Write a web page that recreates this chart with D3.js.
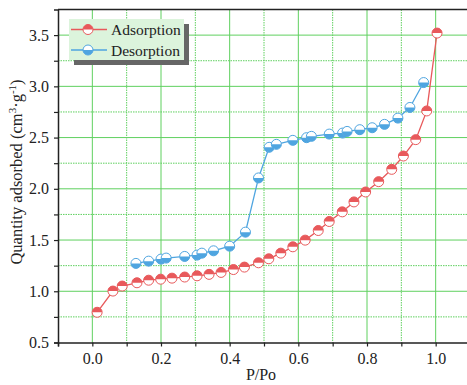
<!DOCTYPE html>
<html>
<head>
  <meta charset="utf-8">
  <title>Adsorption / Desorption isotherm</title>
  <style>
    body { margin: 0; background: #fff; }
    text { font-family: "Liberation Serif", "Times New Roman", Times, serif; fill: #222; }
  </style>
</head>
<body>
  <svg width="467" height="385"></svg>
  <script src="https://d3js.org/d3.v7.min.js"></script>
  <script>
    // adsorption branch (P/Po, quantity)
    const adsX = [0.014, 0.060, 0.087, 0.130, 0.164, 0.199, 0.232, 0.269, 0.305, 0.340, 0.375, 0.411,
                  0.443, 0.484, 0.514, 0.549, 0.584, 0.620, 0.658, 0.690, 0.728, 0.762, 0.796, 0.834,
                  0.872, 0.906, 0.942, 0.974, 1.004];
    const adsY = [0.795, 1.002, 1.051, 1.083, 1.108, 1.118, 1.128, 1.139, 1.151, 1.165, 1.184, 1.212,
                  1.236, 1.278, 1.317, 1.372, 1.434, 1.499, 1.593, 1.681, 1.775, 1.872, 1.969, 2.07,
                  2.19, 2.32, 2.48, 2.76, 3.52];

    // desorption branch
    const desX = [0.127, 0.164, 0.200, 0.215, 0.269, 0.305, 0.319, 0.353, 0.400, 0.446, 0.484, 0.515,
                  0.536, 0.584, 0.624, 0.638, 0.690, 0.729, 0.742, 0.779, 0.815, 0.851, 0.890, 0.925, 0.965];
    const desY = [1.272, 1.294, 1.314, 1.324, 1.340, 1.353, 1.372, 1.395, 1.440, 1.577, 2.106, 2.405,
                  2.434, 2.473, 2.499, 2.512, 2.534, 2.544, 2.560, 2.577, 2.596, 2.629, 2.690, 2.794, 3.037];

    const xTicks = [0.0, 0.2, 0.4, 0.6, 0.8, 1.0];
    const yTicks = [0.5, 1.0, 1.5, 2.0, 2.5, 3.0, 3.5];

    const series = [
      {name: "Adsorption", color: "#e8595b", half: "top", x: adsX, y: adsY},
      {name: "Desorption", color: "#4fa5e0", half: "bottom", x: desX, y: desY}
    ];

    const svg = d3.select("svg"),
          margin = {top: 9.5, left: 58},
          width = 412, height = 333;

    const x = d3.scaleLinear().domain([-0.1, 1.1]).range([0, width]);
    const y = d3.scaleLinear().domain([0.5, 3.75]).range([height, 0]);

    const g = svg.append("g")
      .attr("transform", "translate(" + margin.left + "," + margin.top + ")");

    // grid: solid at major, dotted at minor
    const gridColor = "#5fd05f";
    const xGrid = d3.range(0, 11).map(i => i / 10);
    const yGrid = d3.range(1, 13).map(i => 0.5 + i * 0.25);

    g.selectAll(".vgrid").data(xGrid).enter().append("line")
      .attr("x1", d => x(d)).attr("x2", d => x(d))
      .attr("y1", 0).attr("y2", height)
      .attr("stroke", gridColor)
      .attr("stroke-width", 1)
      .attr("stroke-dasharray", (d, i) => i % 2 ? "1.5,1" : null);

    g.selectAll(".hgrid").data(yGrid).enter().append("line")
      .attr("x1", 0).attr("x2", width)
      .attr("y1", d => y(d)).attr("y2", d => y(d))
      .attr("stroke", gridColor)
      .attr("stroke-width", 1)
      .attr("stroke-dasharray", (d, i) => i % 2 ? null : "1.5,1");

    // top frame line
    g.append("line")
      .attr("x1", 0).attr("x2", width).attr("y1", 0).attr("y2", 0)
      .attr("stroke", "#222").attr("stroke-width", 1.5);

    // axes
    const xAxis = g.append("g")
      .attr("transform", "translate(0," + height + ")")
      .call(d3.axisBottom(x).tickValues(d3.range(-1, 12).map(i => i / 10)).tickSize(4).tickPadding(6)
        .tickFormat(d => xTicks.some(t => Math.abs(t - d) < 1e-9) ? d3.format(".1f")(d) : ""));
    xAxis.select(".domain").attr("stroke", "#222").attr("stroke-width", 1.5);
    xAxis.selectAll(".tick line").attr("stroke", "#222").attr("stroke-width", 1.2);
    xAxis.selectAll("text").style("font-size", "16px").attr("fill", "#222")
      .style("font-family", "'Liberation Serif', 'Times New Roman', serif");

    const yAxis = g.append("g")
      .call(d3.axisLeft(y).tickValues(d3.range(0, 13).map(i => 0.5 + i * 0.25)).tickSize(4).tickPadding(5)
        .tickFormat(d => yTicks.some(t => Math.abs(t - d) < 1e-9) ? d3.format(".1f")(d) : ""));
    yAxis.select(".domain").attr("stroke", "#222").attr("stroke-width", 1.5);
    yAxis.selectAll(".tick line").attr("stroke", "#222").attr("stroke-width", 1.2);
    yAxis.selectAll("text").style("font-size", "16px").attr("fill", "#222")
      .style("font-family", "'Liberation Serif', 'Times New Roman', serif");

    // axis titles
    svg.append("text")
      .attr("x", margin.left + x(0.5) - 3).attr("y", 380)
      .attr("text-anchor", "middle")
      .style("font-size", "16px")
      .text("P/Po");

    const yt = svg.append("text")
      .attr("transform", "translate(22," + (margin.top + height / 2 - 4) + ") rotate(-90)")
      .attr("text-anchor", "middle")
      .style("font-size", "16.5px");
    yt.append("tspan").text("Quantity adsorbed (cm");
    yt.append("tspan").attr("dy", -6).style("font-size", "11px").text("3");
    yt.append("tspan").attr("dy", 6).text("·g");
    yt.append("tspan").attr("dy", -6).style("font-size", "11px").text("-1");
    yt.append("tspan").attr("dy", 6).text(")");

    // half-filled marker
    function marker(sel, color, half, r) {
      sel.append("circle").attr("r", r).attr("fill", "#fff")
        .attr("stroke", color).attr("stroke-width", 1);
      const sweep = half === "top" ? 1 : 0;
      sel.append("path")
        .attr("d", "M" + (-r) + ",0 A" + r + "," + r + " 0 0 " + sweep + " " + r + ",0 Z")
        .attr("fill", color);
    }

    const line = d3.line().x(d => x(d[0])).y(d => y(d[1]));

    series.forEach(s => {
      const pts = s.x.map((v, i) => [v, s.y[i]]);
      g.append("path")
        .datum(pts)
        .attr("d", line)
        .attr("fill", "none")
        .attr("stroke", s.color)
        .attr("stroke-width", 1.3);
      g.selectAll(".pt-" + s.half).data(pts).enter().append("g")
        .attr("transform", d => "translate(" + x(d[0]) + "," + y(d[1]) + ")")
        .each(function() { marker(d3.select(this), s.color, s.half, 5); });
    });

    // legend with shadow
    const lg = svg.append("g").attr("transform", "translate(69,19)");
    lg.append("rect").attr("x", 5).attr("y", 5).attr("width", 115).attr("height", 41).attr("fill", "#666");
    lg.append("rect").attr("x", 0).attr("y", 0).attr("width", 115).attr("height", 41).attr("fill", "#dcf4dc");
    series.forEach((s, i) => {
      const row = lg.append("g").attr("transform", "translate(0," + (10.5 + i * 20.5) + ")");
      row.append("line").attr("x1", 2).attr("x2", 38).attr("stroke", s.color).attr("stroke-width", 1.3);
      marker(row.append("g").attr("transform", "translate(19,0)"), s.color, s.half, 5);
      row.append("text").attr("x", 42).attr("y", 5.5)
        .style("font-size", "15.5px").text(s.name);
    });
  </script>
</body>
</html>
